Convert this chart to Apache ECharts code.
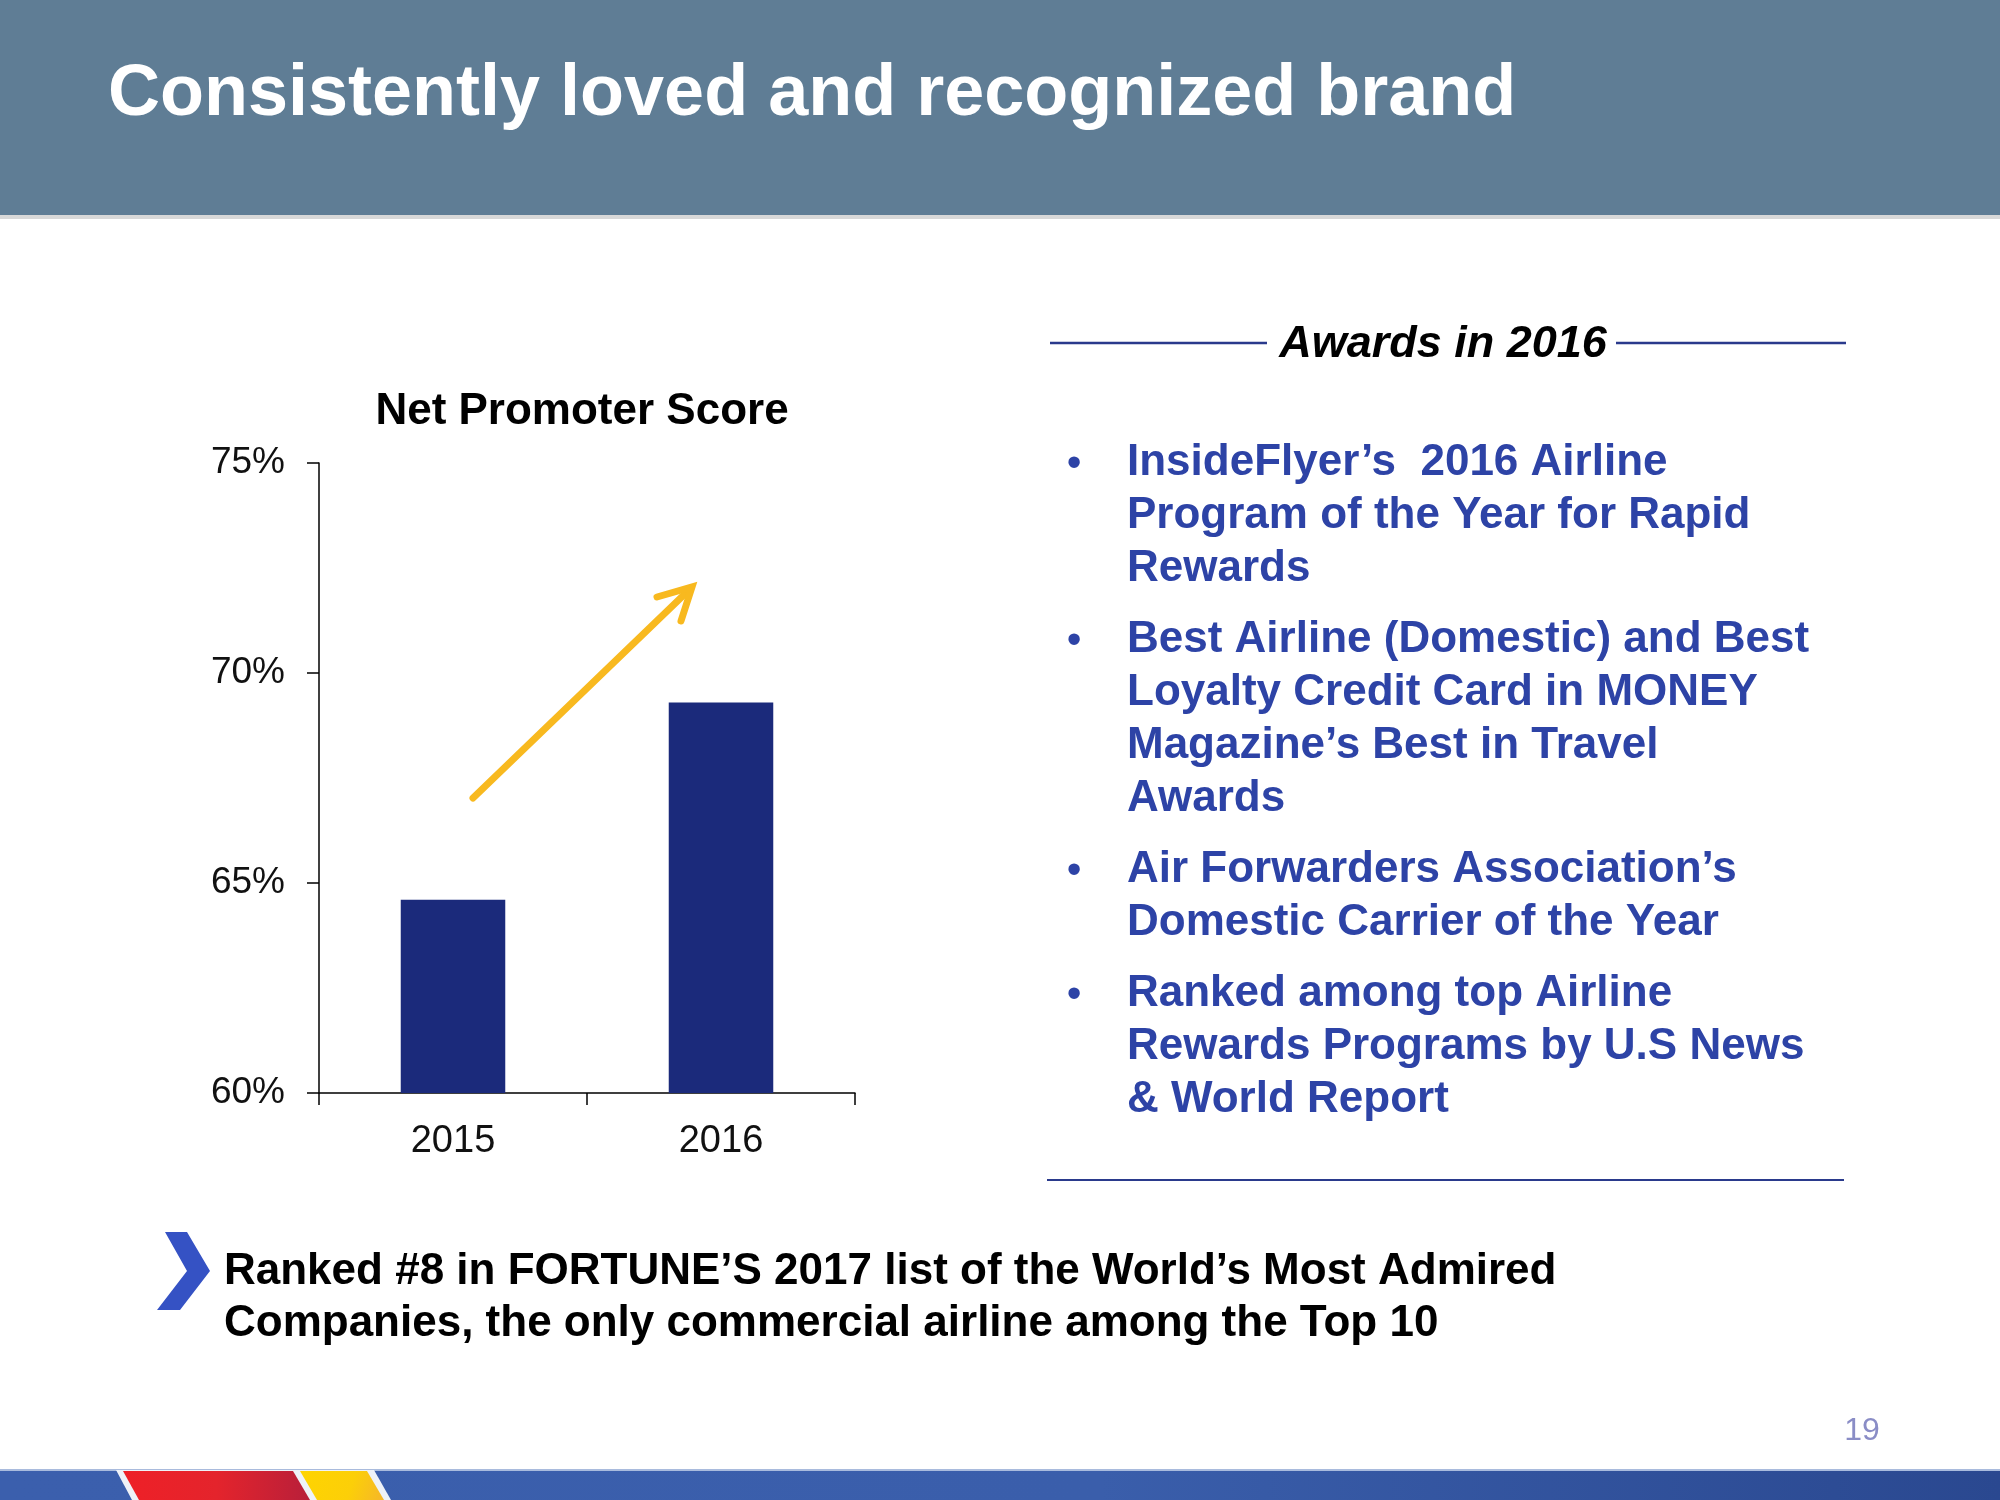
<!DOCTYPE html>
<html>
<head>
<meta charset="utf-8">
<script src="https://cdn.jsdelivr.net/npm/echarts@6/dist/echarts.min.js"></script>
<style>
html,body{margin:0;padding:0;background:#fff;}
#main{width:2000px;height:1500px;}
</style>
</head>
<body>
<div id="main"></div>
<script>
// ---- data ----
const slideTitle = 'Consistently loved and recognized brand';
const chartTitle = 'Net Promoter Score';
const categories = ['2015', '2016'];
const npsValues = [64.6, 69.3];
const yMin = 60, yMax = 75, yStep = 5;
const awardsHeading = 'Awards in 2016';
const awards = [
  ['InsideFlyer\u2019s  2016 Airline', 'Program of the Year for Rapid', 'Rewards'],
  ['Best Airline (Domestic) and Best', 'Loyalty Credit Card in MONEY', 'Magazine\u2019s Best in Travel', 'Awards'],
  ['Air Forwarders Association\u2019s', 'Domestic Carrier of the Year'],
  ['Ranked among top Airline', 'Rewards Programs by U.S News', '& World Report']
];
const footerLines = ['Ranked #8 in FORTUNE\u2019S 2017 list of the World\u2019s Most Admired',
                     'Companies, the only commercial airline among the Top 10'];
const pageNumber = '19';

// ---- chart ----
const FONT = '"Liberation Sans", Arial, Helvetica, sans-serif';
const chart = echarts.init(document.getElementById('main'), null, {renderer: 'canvas'});

const navyText = '#2d43a6';
const lineH = 53, groupGap = 18;
const awardGraphics = [];
let yc = 463;
awards.forEach(function (grp) {
  awardGraphics.push({
    type: 'text', x: 1074, y: yc + 1,
    style: {text: '\u2022', fill: navyText, fontSize: 42, fontFamily: FONT,
            textAlign: 'center', textVerticalAlign: 'middle'}
  });
  awardGraphics.push({
    type: 'text', x: 1127, y: yc - lineH / 2,
    style: {text: grp.join('\n'), fill: navyText, fontSize: 44, fontWeight: 'bold',
            fontFamily: FONT, lineHeight: lineH, textAlign: 'left', textVerticalAlign: 'top'}
  });
  yc += grp.length * lineH + groupGap;
});

const arrowColor = '#f8b91f';

const option = {
  backgroundColor: '#ffffff',
  animation: false,
  grid: {left: 319, top: 463, width: 536, height: 630, containLabel: false},
  xAxis: {
    type: 'category',
    data: categories,
    axisLine: {show: true, lineStyle: {color: '#000', width: 1.5}},
    axisTick: {show: true, length: 12, alignWithLabel: false, lineStyle: {color: '#000', width: 1.5}},
    axisLabel: {color: '#111', fontSize: 38, fontFamily: FONT, margin: 30}
  },
  yAxis: {
    type: 'value',
    min: yMin, max: yMax, interval: yStep,
    splitLine: {show: false},
    axisLine: {show: true, lineStyle: {color: '#000', width: 1.5}},
    axisTick: {show: true, length: 12, lineStyle: {color: '#000', width: 1.5}},
    axisLabel: {color: '#111', fontSize: 37, fontFamily: FONT, margin: 34, padding: [7, 0, 0, 0],
                formatter: function (v) { return v + '%'; }}
  },
  series: [{
    type: 'bar',
    data: npsValues,
    barWidth: '39%',
    itemStyle: {color: '#1b2a7b'}
  }],
  graphic: [
    // header bar
    {type: 'rect', shape: {x: 0, y: 0, width: 2000, height: 215}, style: {fill: '#5f7d95'}},
    {type: 'rect', shape: {x: 0, y: 215, width: 2000, height: 4}, style: {fill: '#d8d8d8'}},
    {type: 'text', x: 108, y: 95,
     style: {text: slideTitle, fill: '#ffffff', fontSize: 72, fontWeight: 'bold', fontFamily: FONT,
             textAlign: 'left', textVerticalAlign: 'middle'}},
    // chart title
    {type: 'text', x: 582, y: 412,
     style: {text: chartTitle, fill: '#000', fontSize: 44, fontWeight: 'bold', fontFamily: FONT,
             textAlign: 'center', textVerticalAlign: 'middle'}},
    // arrow
    {type: 'line', shape: {x1: 473, y1: 798, x2: 690, y2: 589},
     style: {stroke: arrowColor, lineWidth: 7, lineCap: 'round'}},
    {type: 'polyline', shape: {points: [[657, 597], [692, 587], [681, 621]]},
     style: {stroke: arrowColor, lineWidth: 7, lineCap: 'round', lineJoin: 'miter', fill: null}},
    // awards heading and rules
    {type: 'line', shape: {x1: 1050, y1: 343, x2: 1267, y2: 343}, style: {stroke: '#2a3a8c', lineWidth: 2.5}},
    {type: 'line', shape: {x1: 1616, y1: 343, x2: 1846, y2: 343}, style: {stroke: '#2a3a8c', lineWidth: 2.5}},
    {type: 'text', x: 1443, y: 345,
     style: {text: awardsHeading, fill: '#000', fontSize: 45, fontWeight: 'bold', fontStyle: 'italic',
             fontFamily: FONT, textAlign: 'center', textVerticalAlign: 'middle'}},
    {type: 'line', shape: {x1: 1047, y1: 1180, x2: 1844, y2: 1180}, style: {stroke: '#2a3a8c', lineWidth: 2}}
  ].concat(awardGraphics).concat([
    // chevron
    {type: 'polygon',
     shape: {points: [[165, 1232], [187, 1232], [210, 1271], [180, 1310], [157, 1310], [187, 1271]]},
     style: {fill: '#3552c4'}},
    {type: 'text', x: 224, y: 1272 - 26,
     style: {text: footerLines.join('\n'), fill: '#000', fontSize: 44, fontWeight: 'bold',
             fontFamily: FONT, lineHeight: 52, textAlign: 'left', textVerticalAlign: 'top'}},
    // page number
    {type: 'text', x: 1862, y: 1431,
     style: {text: pageNumber, fill: '#8a8dc6', fontSize: 32, fontFamily: FONT,
             textAlign: 'center', textVerticalAlign: 'middle'}},
    // bottom stripe
    {type: 'rect', shape: {x: 0, y: 1470, width: 2000, height: 30},
     style: {fill: new echarts.graphic.LinearGradient(0, 0, 1, 0, [
       {offset: 0, color: '#3b5fad'}, {offset: 0.55, color: '#3a5eab'}, {offset: 1, color: '#2a4890'}])}},
    {type: 'rect', shape: {x: 0, y: 1469, width: 2000, height: 2}, style: {fill: '#a9bbdd'}},
    {type: 'polygon', shape: {points: [[116, 1470], [374, 1470], [391, 1500], [132, 1500]]},
     style: {fill: '#eef2f8'}},
    {type: 'polygon', shape: {points: [[123, 1471], [293, 1471], [310, 1500], [139, 1500]]},
     style: {fill: new echarts.graphic.LinearGradient(0, 0, 1, 0, [
       {offset: 0, color: '#ee2027'}, {offset: 0.5, color: '#e4242c'}, {offset: 1, color: '#b81f3a'}])}},
    {type: 'polygon', shape: {points: [[300, 1471], [367, 1471], [384, 1500], [317, 1500]]},
     style: {fill: new echarts.graphic.LinearGradient(0, 0, 1, 1, [
       {offset: 0, color: '#ffd400'}, {offset: 0.6, color: '#fccf08'}, {offset: 1, color: '#f5b62a'}])}}
  ])
};
chart.setOption(option);
</script>
</body>
</html>
